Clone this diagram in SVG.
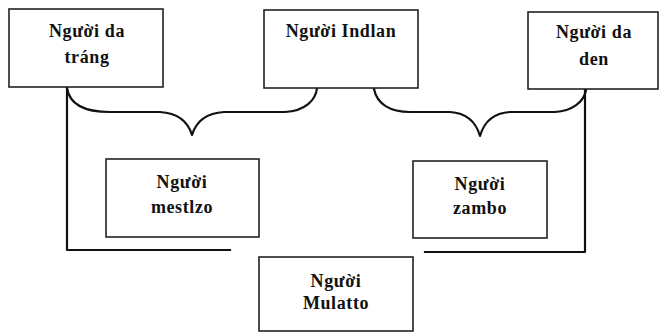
<svg xmlns="http://www.w3.org/2000/svg" width="659" height="333" viewBox="0 0 659 333">
<style>
.box{fill:#fff;stroke:#222;stroke-width:1.6}
.t{font-family:"Liberation Serif","Times New Roman",serif;font-weight:bold;font-size:18px;fill:#111;text-anchor:middle;letter-spacing:0.6px}
.c{fill:none;stroke:#111;stroke-width:2.2;stroke-linecap:square;stroke-linejoin:round}
</style>
<rect width="659" height="333" fill="#fff"/>
<g id="connectors">
<path class="c" d="M67,88 V250 H230"/>
<path class="c" d="M585,90 V252 H425"/>
<path class="c" d="M67,88 C70,108 90,112 110,112 L160,112 C178,113 188,122 192,135 C196,122 206,113 224,112 L285,112 C305,111 316,100 317,88"/>
<path class="c" d="M374,89 C377,104 390,112 410,112 L450,112 C467,113 476,122 480,136 C484,122 493,113 510,112 L555,112 C572,111 584,102 586,90"/>
</g>
<g id="n-trang">
<rect class="box" x="9" y="9" width="154" height="78"/>
<text class="t" x="87" y="37">Người da</text>
<text class="t" x="87" y="63">tráng</text>
</g>
<g id="n-indian">
<rect class="box" x="264" y="10" width="154" height="78"/>
<text class="t" x="341" y="37">Người Indlan</text>
</g>
<g id="n-den">
<rect class="box" x="528" y="12" width="130" height="77"/>
<text class="t" x="594" y="38">Người da</text>
<text class="t" x="594" y="65">den</text>
</g>
<g id="n-mestizo">
<rect class="box" x="106" y="159" width="153" height="78"/>
<text class="t" x="182" y="188">Người</text>
<text class="t" x="182" y="213">mestlzo</text>
</g>
<g id="n-zambo">
<rect class="box" x="413" y="161" width="134" height="77"/>
<text class="t" x="480" y="190">Người</text>
<text class="t" x="480" y="214">zambo</text>
</g>
<g id="n-mulatto">
<rect class="box" x="259" y="257" width="154" height="74"/>
<text class="t" x="336" y="287">Người</text>
<text class="t" x="336" y="309">Mulatto</text>
</g>
</svg>
